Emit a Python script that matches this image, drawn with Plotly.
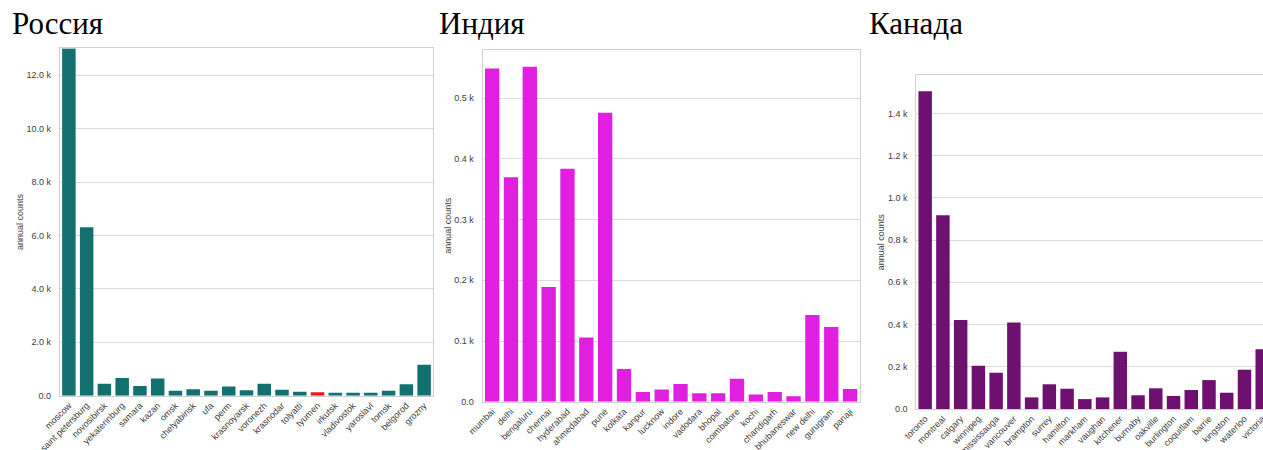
import plotly.graph_objects as go

# ---------------- data ----------------
ru_title = "Россия"
ru_cities = ["moscow", "saint petersburg", "novosibirsk", "yekaterinburg", "samara", "kazan",
             "omsk", "chelyabinsk", "ufa", "perm", "krasnoyarsk", "voronezh", "krasnodar",
             "tolyatti", "tyumen", "irkutsk", "vladivostok", "yaroslavl", "tomsk", "belgorod",
             "grozny"]
ru_counts = [13000, 6310, 450, 665, 365, 640, 190, 240, 190, 340, 205, 450, 225,
             150, 127, 112, 112, 112, 190, 430, 1160]
ru_highlight = "tyumen"
ru_tickvals = [0, 2000, 4000, 6000, 8000, 10000, 12000]
ru_ticktext = ["0.0", "2.0 k", "4.0 k", "6.0 k", "8.0 k", "10.0 k", "12.0 k"]

in_title = "Индия"
in_cities = ["mumbai", "delhi", "bengaluru", "chennai", "hyderabad", "ahmedabad", "pune",
             "kolkata", "kanpur", "lucknow", "indore", "vadodara", "bhopal", "coimbatore",
             "kochi", "chandigarh", "bhubaneswar", "new delhi", "gurugram", "panaji"]
in_counts = [549, 370, 552, 189, 384, 106, 476, 54, 16, 20, 29, 14, 14, 38,
             12, 16, 9, 143, 123, 21]
in_tickvals = [0, 100, 200, 300, 400, 500]
in_ticktext = ["0.0", "0.1 k", "0.2 k", "0.3 k", "0.4 k", "0.5 k"]

ca_title = "Канада"
ca_cities = ["toronto", "montreal", "calgary", "winnipeg", "mississauga", "vancouver",
             "brampton", "surrey", "hamilton", "markham", "vaughan", "kitchener", "burnaby",
             "oakville", "burlington", "coquitlam", "barrie", "kingston", "waterloo", "victoria"]
ca_counts = [1505, 918, 421, 205, 172, 410, 55, 117, 96, 47, 55, 271, 65,
             98, 62, 90, 137, 77, 186, 283]
ca_tickvals = [0, 200, 400, 600, 800, 1000, 1200, 1400]
ca_ticktext = ["0.0", "0.2 k", "0.4 k", "0.6 k", "0.8 k", "1.0 k", "1.2 k", "1.4 k"]

y_title = "annual counts"

# ---------------- style ----------------
W, H = 1263, 450
TEAL = "#127070"
RED = "#e8191c"
MAGENTA = "#e01fe0"
PURPLE = "#6d106f"
SPINE = "#d0d0d0"
GRID = "#dcdcdc"
TXT = "#3c3c3c"


def px_x(p):
    return p / W


def px_y(p):
    return 1 - p / H


fig = go.Figure()

ru_colors = [RED if c == ru_highlight else TEAL for c in ru_cities]
fig.add_trace(go.Bar(x=ru_cities, y=ru_counts, marker_color=ru_colors,
                     xaxis="x", yaxis="y", showlegend=False))
fig.add_trace(go.Bar(x=in_cities, y=in_counts, marker_color=MAGENTA,
                     xaxis="x2", yaxis="y2", showlegend=False))
fig.add_trace(go.Bar(x=ca_cities, y=ca_counts, marker_color=PURPLE,
                     xaxis="x3", yaxis="y3", showlegend=False))


def xax(domain, rng, anchor, mirror=True):
    return dict(domain=domain, range=rng, anchor=anchor, showgrid=False,
                showline=True, linecolor=SPINE, linewidth=1.2, mirror=mirror,
                tickangle=-45, tickfont=dict(size=9, color=TXT), ticks="",
                automargin=False, fixedrange=True, zeroline=False)


def yax(domain, rng, anchor, tv, tt, mirror=True):
    return dict(domain=domain, range=rng, anchor=anchor, showgrid=True,
                gridcolor=GRID, gridwidth=1, showline=True, linecolor=SPINE,
                linewidth=1.2, mirror=mirror, tickvals=tv, ticktext=tt,
                tickfont=dict(size=9, color=TXT), ticks="", ticklabelstandoff=6,
                zeroline=False, automargin=False,
                title=dict(text=y_title, font=dict(size=9, color=TXT), standoff=1))


# Russia
ru_l, ru_r, ru_t, ru_b = 60, 433, 48.3, 395.7
# India
in_l, in_r, in_t, in_b = 482.7, 859.5, 50, 401.7
# Canada (cut at right edge of picture)
ca_l, ca_t, ca_b = 916.3, 75.3, 409
ca_pitch = 17.74

fig.update_layout(
    template="none",
    width=W, height=H,
    margin=dict(l=0, r=0, t=0, b=0, pad=0),
    paper_bgcolor="white", plot_bgcolor="white",
    bargap=0.24,
    font=dict(family="Liberation Sans, Arial, sans-serif", color=TXT),
    xaxis=xax([px_x(ru_l), px_x(ru_r)], [-0.5, len(ru_cities) - 0.5], "y"),
    yaxis=yax([px_y(ru_b), px_y(ru_t)], [0, 13010], "x", ru_tickvals, ru_ticktext),
    xaxis2=xax([px_x(in_l), px_x(in_r)], [-0.5, len(in_cities) - 0.5], "y2"),
    yaxis2=yax([px_y(in_b), px_y(in_t)], [0, max(in_counts) * 1.05], "x2",
               in_tickvals, in_ticktext),
    xaxis3=xax([px_x(ca_l), 1.0], [-0.5, -0.5 + (W - ca_l) / ca_pitch], "y3"),
    yaxis3=yax([px_y(ca_b), px_y(ca_t)], [0, max(ca_counts) * 1.05], "x3",
               ca_tickvals, ca_ticktext, mirror=False),
)

for txt, xp in [(ru_title, 10), (in_title, 437), (ca_title, 866.5)]:
    fig.add_annotation(text=txt, x=px_x(xp), y=px_y(23.5), xref="paper", yref="paper",
                       xanchor="left", yanchor="middle", showarrow=False,
                       font=dict(family="Liberation Serif, Times New Roman, serif",
                                 size=31, color="black"))

fig.write_html("out.html",
               config={"displayModeBar": False},
               post_script="document.body.style.margin='0';"
                           "document.body.style.overflow='hidden';")
